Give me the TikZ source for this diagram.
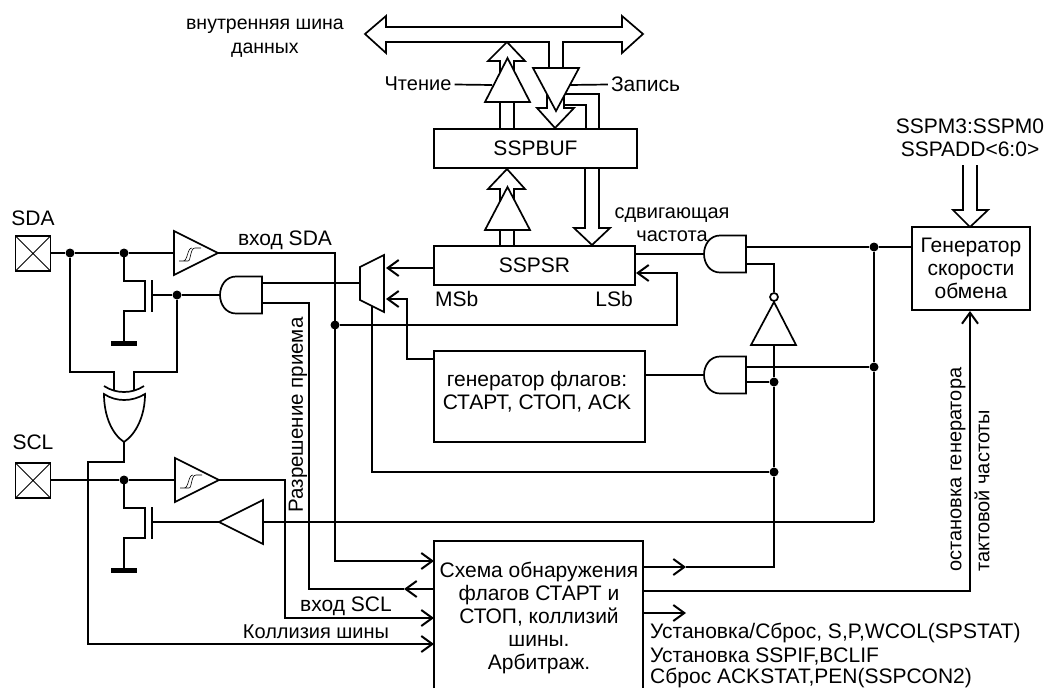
\documentclass[tikz,border=0pt]{standalone}
\usepackage{fontspec}
\setmainfont{Liberation Sans}
\usetikzlibrary{arrows.meta}
\tikzset{
  wire/.style={line width=1.7pt, line join=miter},
  sig/.style={wire, -{Straight Barb[length=11pt, width=16pt, line width=2pt]}},
  fat/.style={wire, fill=white},
  txt/.style={font=\fontsize{21}{23}\selectfont, inner sep=0pt, align=center},
  txtsmall/.style={txt, font=\fontsize{20}{23.5}\selectfont},
  regbox/.style={draw, wire, fill=white, inner sep=0pt, align=center, font=\fontsize{21}{23}\selectfont},
  dot/.style={circle, fill=black, inner sep=0pt, minimum size=9pt},
  bubble/.style={circle, draw, wire, fill=white, inner sep=0pt, minimum size=8pt},
  pad/.style={draw, wire, minimum size=35pt, inner sep=0pt, path picture={
    \draw[line width=1pt] (path picture bounding box.north west) -- (path picture bounding box.south east)
      (path picture bounding box.north east) -- (path picture bounding box.south west);}},
  andgate/.pic={
    \draw[fat] (0,-18.5) -- (-26,-18.5) .. controls (-36,-18.5) and (-42,-9.5) .. (-42,0)
      .. controls (-42,9.5) and (-36,18.5) .. (-26,18.5) -- (0,18.5) -- cycle;
    \coordinate (-tip) at (-42,0);
  },
  schmitt/.pic={
    \draw[fat] (0,-22) -- (44,0) -- (0,22) -- cycle;
    \draw[line width=.6pt] (5,8) -- (14,8) .. controls (17,8) and (16,-5) .. (21,-5) -- (27,-5)
      (9,8) .. controls (14,8) and (13,-5) .. (18,-5);
    \coordinate (-in) at (0,0);
    \coordinate (-out) at (44,0);
  },
  nmos/.pic={
    \draw[wire] (0,0) |- (21,28) -- (21,58) -| (0,90);
    \draw[wire] (28,27) -- (28,59);
    \draw[line width=5pt] (-13,90) -- (13,90);
    \coordinate (-gate) at (28,41);
  }
}
\begin{document}
\begin{tikzpicture}[x=1pt, y=-1pt]
  \useasboundingbox (0,0) rectangle (1048,688);

  % data bus
  \draw[fat] (365,34) -- (386,16) -- (386,27) -- (622,27) -- (622,16) -- (643,34) -- (622,53) -- (622,42)
    -- (563,42) -- (563,68) -- (549,68) -- (549,42) -- (386,42) -- (386,53) -- cycle;
  \node[txt, font=\fontsize{19.5}{24}\selectfont] (busText) at (265,38.5) {внутренняя шина\\данных};

  % read and write drivers
  \draw[fat] (507,42) -- (525,61) -- (514,61) -- (514,129) -- (500,129) -- (500,61) -- (488,61) -- cycle;
  \draw[fat] (507.5,58) -- (530,102) -- (485,102) -- cycle;
  \draw[fat] (555,128) -- (574,108) -- (564,108) -- (564,105) -- (586,105) -- (586,129) -- (599,129)
    -- (599,94) -- (547,94) -- (547,108) -- (537,108) -- cycle;
  \draw[wire] (564,94) -- (564,108);
  \draw[fat] (533,68) -- (579,68) -- (556,111) -- cycle;
  \node[txtsmall] (readText) at (418,84) {Чтение};
  \node[txt] (writeText) at (645.5,84) {Запись};
  \coordinate (readIn) at (492,85);
  \coordinate (writeIn) at (570,85);
  \draw[wire, shorten <=3pt] (readText) -- (readIn);
  \draw[wire, shorten <=3pt] (writeText) -- (writeIn);

  % registers
  \node[regbox, minimum width=203pt, minimum height=39pt] (SSPBUF) at (535.5,148.5) {SSPBUF};
  \draw[fat] (507,169) -- (525,189) -- (514,189) -- (514,246) -- (500,246) -- (500,189) -- (488,189) -- cycle;
  \draw[fat] (507.5,187) -- (530,230) -- (485,230) -- cycle;
  \draw[fat] (592,245) -- (610,228) -- (599,228) -- (599,168) -- (585,168) -- (585,228) -- (574,228) -- cycle;
  \node[regbox, minimum width=201pt, minimum height=39pt] (SSPSR) at (534.5,265.5) {SSPSR};
  \node[txt, anchor=west] (msbText) at (435,299) {MSb};
  \node[txt, anchor=east] (lsbText) at (633,299) {LSb};
  \node[txtsmall] (shiftText) at (672,224.5) {сдвигающая\\частота};
  \node[regbox, minimum width=211pt, minimum height=91pt] (flagGen) at (539.5,396.5) {};
  \node[txt] (flagText) at (537,392) {генератор флагов:\\СТАРТ, СТОП, ACK};

  % mux
  \draw[fat] (384,255) -- (384,312) -- (360,300) -- (360,267) -- cycle;
  \coordinate (muxOut) at (360,283);
  \coordinate (muxIn) at (386,268);
  \coordinate (muxInB) at (386,299);
  \coordinate (muxSel) at (372,306);
  \coordinate (msbOut) at (434,268);
  \coordinate (flagOut) at (434,359);
  \draw[sig] (msbOut) -- (muxIn);
  \draw[sig] (flagOut) -| (407,299) -- (muxInB);

  % pads and input buffers
  \node[txt] (sdaText) at (33,218) {SDA};
  \node[pad] (sdaPad) at (33,253.5) {};
  \node[txt] (sclText) at (33,442) {SCL};
  \node[pad] (sclPad) at (33,480.5) {};
  \pic (bufA) at (174,253) {schmitt};
  \pic (bufB) at (175,480) {schmitt};
  \node[dot] (sdaJoinA) at (70,253) {};
  \node[dot] (sdaJoinB) at (124,253) {};
  \node[dot] (sclJoin) at (124,480) {};
  \draw[wire] (sdaPad.east |- sdaJoinA) -- (sdaJoinA) -- (sdaJoinB) -- (bufA-in);
  \draw[wire] (sclPad.east |- sclJoin) -- (sclJoin) -- (bufB-in);
  \pic (fetA) at (124,253) {nmos};
  \pic (fetB) at (124,480) {nmos};

  % and gates
  \pic (andA) at (262,295) {andgate};
  \pic (andB) at (746,254) {andgate};
  \pic (andC) at (746,375) {andgate};
  \node[dot] (gateJoin) at (177,295) {};
  \draw[wire] (fetA-gate) -- (152,295) -- (gateJoin) -- (andA-tip);
  \coordinate (andAtop) at (262,283);
  \coordinate (andAbot) at (262,303);
  \coordinate (andBtop) at (746,247);
  \coordinate (andBbot) at (746,264);
  \coordinate (andCtop) at (746,367);
  \coordinate (andCbot) at (746,382);
  \draw[wire] (andAtop) -- (muxOut);
  \coordinate (shiftOut) at (635,254);
  \coordinate (flagIn) at (645,375);
  \draw[wire] (andB-tip) -- (shiftOut);
  \draw[wire] (andC-tip) -- (flagIn);

  % xor gate
  \draw[wire] (104,386) .. controls (116,394) and (132,394) .. (144,386);
  \draw[fat] (104,394) .. controls (116,402) and (132,402) .. (145,394)
    .. controls (145,416) and (136,434) .. (124,442) .. controls (112,434) and (104,416) .. (104,394) -- cycle;
  \coordinate (xorInA) at (114,391);
  \coordinate (xorInB) at (134,391);
  \coordinate (xorOut) at (124,442);
  \draw[wire] (sdaJoinA) |- (114,372) -- (xorInA);
  \draw[wire] (gateJoin) |- (134,372) -- (xorInB);

  % inverter and rate generator
  \node[regbox, minimum width=118pt, minimum height=83pt] (rateGen) at (971,268.5) {Генератор\\скорости\\обмена};
  \node[txt] (modeText) at (970,138) {SSPM3:SSPM0\\SSPADD<6:0>};
  \draw[fat] (963,165) -- (963,210) -- (953,210) -- (970,227) -- (988,210) -- (977,210) -- (977,165);
  \draw[fat] (796,345) -- (751,345) -- (774,302) -- cycle;
  \node[bubble] (invBubble) at (774,297) {};
  \draw[wire] (invBubble) |- (andBbot);
  \node[dot] (rateJoin) at (874,247) {};
  \node[dot] (flagJoin) at (874,367) {};
  \node[dot] (invJoin) at (774,382) {};
  \node[dot] (selJoin) at (774,472) {};
  \coordinate (rateIn) at (912,247);
  \draw[wire] (andBtop) -- (rateJoin) -- (rateIn);
  \draw[wire] (andCtop) -- (flagJoin);
  \draw[wire] (andCbot) -- (invJoin);
  \draw[wire] (rateJoin) -- (flagJoin) -- (874,522) coordinate (stopBuf);
  \draw[fat] (263,500) -- (263,544) -- (219,522) -- cycle;
  \coordinate (stopBufIn) at (263,522);
  \coordinate (stopBufTip) at (219,522);
  \draw[wire] (stopBuf) -- (stopBufIn);
  \draw[wire] (stopBufTip) -- (152,522);
  \draw[wire] (muxSel) |- (selJoin);

  % detector block
  \draw[wire] (434,688) |- (643,541) -- (643,688);
  \node[txt] (detectText) at (539,617.5) {Схема обнаружения\\флагов СТАРТ и\\СТОП, коллизий\\шины.\\Арбитраж.};
  \coordinate (detSda) at (434,561);
  \coordinate (detEn) at (434,589);
  \coordinate (detScl) at (434,618);
  \coordinate (detBus) at (434,644);
  \coordinate (detOutA) at (643,567);
  \coordinate (detOutB) at (643,591);
  \coordinate (detOutC) at (643,613);
  \coordinate (tipEn) at (404,589);
  \coordinate (tipA) at (686,567);
  \coordinate (tipC) at (686,613);
  \coordinate (rateStop) at (970,311);
  \draw[sig] (bufA-out) -| (335,561) -- (detSda);
  \draw[sig] (bufB-out) -| (285,618) -- (detScl);
  \draw[sig] (xorOut) |- (88,462) |- (detBus);
  \draw[sig] (detEn) -- (tipEn);
  \draw[wire] (tipEn) -| (309,303) -- (andAbot);
  \draw[sig] (detOutA) -- (tipA);
  \draw[wire] (tipA) -| (selJoin) -- (invJoin) -- (774,345);
  \draw[sig] (detOutB) -| (rateStop);
  \draw[sig] (detOutC) -- (tipC);
  \node[dot] (feedJoin) at (335,325) {};
  \coordinate (lsbIn) at (636,273);
  \draw[sig] (feedJoin) -| (677,273) -- (lsbIn);

  % texts
  \node[txt] (sdaInText) at (285,240) {вход SDA};
  \node[txt] (sclInText) at (346,606) {вход SCL};
  \node[txtsmall] (busErrText) at (316,632) {Коллизия шины};
  \node[txtsmall, font=\fontsize{20.5}{23}\selectfont, rotate=90] (enableText) at (298,415) {Разрешение приема};
  \node[txtsmall, rotate=90, anchor=west] (stopText) at (958,572) {остановка генератора};
  \node[txtsmall, rotate=90, anchor=west] (clockText) at (982,572) {тактовой частоты};
  \node[txt, anchor=west] (setText) at (650,633) {Установка/Сброс, S,P,WCOL(SPSTAT)};
  \node[txt, anchor=west] (flagSetText) at (650,656) {Установка SSPIF,BCLIF};
  \node[txt, anchor=west] (clearText) at (650,678) {Сброс ACKSTAT,PEN(SSPCON2)};
\end{tikzpicture}
\end{document}
